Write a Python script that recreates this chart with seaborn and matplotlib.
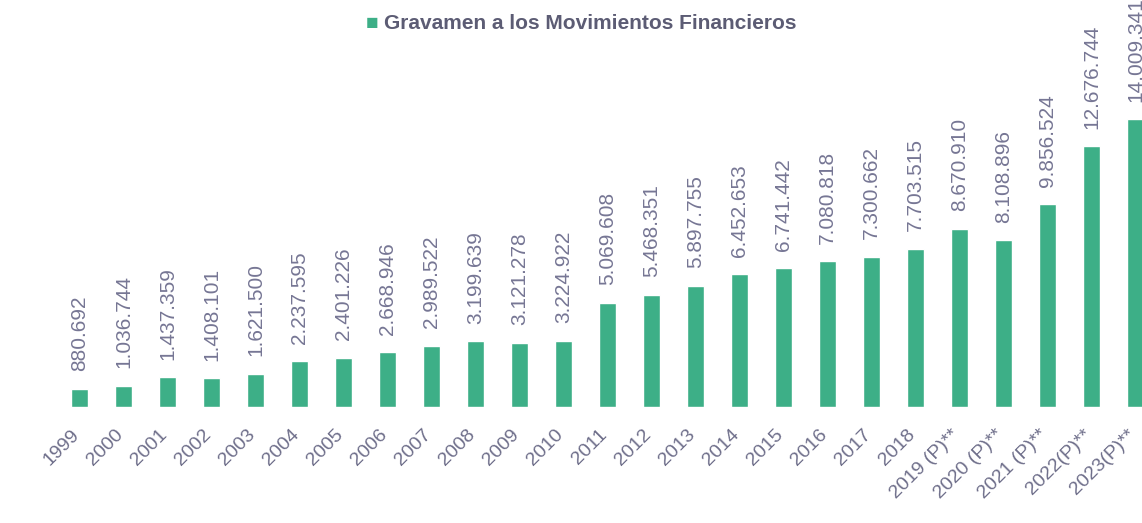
import matplotlib
matplotlib.use("Agg")
import matplotlib.pyplot as plt
import matplotlib.transforms as mtransforms
import seaborn as sns
import pandas as pd

# Gravamen a los Movimientos Financieros (recaudo por año)
years = ["1999", "2000", "2001", "2002", "2003", "2004", "2005", "2006",
         "2007", "2008", "2009", "2010", "2011", "2012", "2013", "2014",
         "2015", "2016", "2017", "2018", "2019 (P)**", "2020 (P)**",
         "2021 (P)**", "2022(P)**", "2023(P)**"]
recaudo = [880692, 1036744, 1437359, 1408101, 1621500, 2237595, 2401226,
           2668946, 2989522, 3199639, 3121278, 3224922, 5069608, 5468351,
           5897755, 6452653, 6741442, 7080818, 7300662, 7703515, 8670910,
           8108896, 9856524, 12676744, 14009341]
serie = "Gravamen a los Movimientos Financieros"

bar_color = "#3daf87"
text_color = "#767694"

sns.set_theme(style="white")
plt.rcParams["font.family"] = ["Liberation Sans", "DejaVu Sans"]

df = pd.DataFrame({"year": years, "value": recaudo})

fig = plt.figure(figsize=(11.42, 5.23), dpi=100)
ax = fig.add_axes([57.5 / 1142, 116 / 523, 1100 / 1142, 407 / 523])

sns.barplot(data=df, x="year", y="value", color=bar_color, width=0.4,
            saturation=1, ax=ax)
ax.set_xlim(-0.5, len(years) - 0.5)
ax.set_ylim(0, 19.8e6)

def fmt(v):
    return f"{v:,}".replace(",", ".")

for i, v in enumerate(recaudo):
    ax.text(i, v + 0.85e6, fmt(v), rotation=90, ha="center", va="bottom",
            fontsize=15, color=text_color)

ax.set_xlabel("")
ax.set_ylabel("")
ax.set_yticks([])
ax.tick_params(axis="x", length=0, pad=14)
ax.set_xticks(range(len(years)))
ax.set_xticklabels(years, rotation=45, ha="right", va="top",
                   rotation_mode="anchor", fontsize=14, color="#6e6e8a")
shift = mtransforms.ScaledTranslation(-9 / 100, 0, fig.dpi_scale_trans)
for lbl in ax.get_xticklabels():
    lbl.set_transform(lbl.get_transform() + shift)
sns.despine(ax=ax, left=True, bottom=True)

fig.text(0.320, 0.955, "\u25A0", color=bar_color, fontsize=15,
         ha="left", va="center")
fig.text(0.336, 0.955, serie, color="#5c5c74", fontsize=15,
         fontweight="bold", ha="left", va="center")

fig.savefig("out.png", dpi=100)
